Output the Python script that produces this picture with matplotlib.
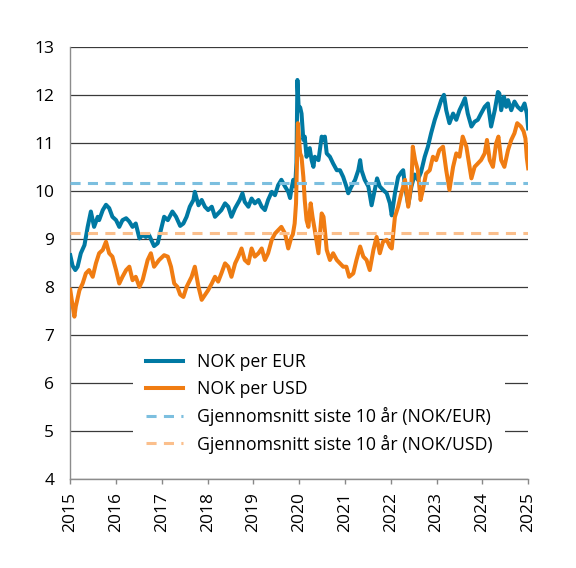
import matplotlib
matplotlib.use('Agg')
from matplotlib import pyplot as plt

plt.rcParams['font.family'] = ['Open Sans', 'DejaVu Sans']

# NOK per EUR, position on the year axis and value
eur_x = [
    2015.00, 2015.05, 2015.11, 2015.16, 2015.23, 2015.31, 2015.38, 2015.45,
    2015.52, 2015.60, 2015.63, 2015.71, 2015.78, 2015.85, 2015.92, 2016.00,
    2016.07, 2016.14, 2016.22, 2016.29, 2016.36, 2016.43, 2016.51, 2016.58,
    2016.65, 2016.72, 2016.83, 2016.91, 2016.98, 2017.05, 2017.13, 2017.23,
    2017.31, 2017.40, 2017.47, 2017.54, 2017.61, 2017.69, 2017.72, 2017.80,
    2017.87, 2017.94, 2018.01, 2018.09, 2018.16, 2018.23, 2018.30, 2018.38,
    2018.45, 2018.52, 2018.60, 2018.70, 2018.76, 2018.81, 2018.89, 2018.96,
    2019.03, 2019.11, 2019.18, 2019.25, 2019.32, 2019.40, 2019.47, 2019.54,
    2019.61, 2019.69, 2019.76, 2019.80, 2019.83, 2019.87, 2019.91, 2019.94,
    2019.96, 2019.99, 2020.02, 2020.05, 2020.09, 2020.12, 2020.16, 2020.20,
    2020.23, 2020.27, 2020.31, 2020.34, 2020.42, 2020.49, 2020.53, 2020.56,
    2020.60, 2020.67, 2020.74, 2020.82, 2020.89, 2020.96, 2021.03, 2021.07,
    2021.14, 2021.22, 2021.29, 2021.33, 2021.36, 2021.43, 2021.51, 2021.58,
    2021.65, 2021.70, 2021.76, 2021.83, 2021.91, 2021.98, 2022.02, 2022.09,
    2022.16, 2022.23, 2022.27, 2022.31, 2022.38, 2022.45, 2022.52, 2022.59,
    2022.66, 2022.74, 2022.81, 2022.88, 2022.96, 2023.03, 2023.10, 2023.16,
    2023.21, 2023.28, 2023.36, 2023.43, 2023.50, 2023.57, 2023.62, 2023.68,
    2023.76, 2023.83, 2023.90, 2023.97, 2024.05, 2024.12, 2024.19, 2024.27,
    2024.34, 2024.37, 2024.41, 2024.47, 2024.52, 2024.56, 2024.63, 2024.70,
    2024.77, 2024.85, 2024.92, 2024.97, 2025.00,
]
eur_y = [
    8.67, 8.45, 8.36, 8.43, 8.71, 8.88, 9.26, 9.58,
    9.26, 9.47, 9.40, 9.61, 9.72, 9.65, 9.47, 9.40,
    9.26, 9.40, 9.44, 9.37, 9.26, 9.33, 9.02, 9.09,
    9.05, 9.09, 8.86, 8.92, 9.20, 9.47, 9.40, 9.58,
    9.47, 9.28, 9.33, 9.47, 9.68, 9.82, 9.99, 9.71,
    9.82, 9.68, 9.61, 9.68, 9.47, 9.54, 9.61, 9.75,
    9.68, 9.47, 9.65, 9.82, 9.96, 9.78, 9.68, 9.85,
    9.75, 9.82, 9.68, 9.61, 9.82, 9.99, 9.92, 10.13,
    10.24, 10.10, 9.99, 9.86, 10.05, 10.24, 10.10, 10.60,
    12.32, 11.69, 11.75, 11.62, 11.07, 11.14, 10.72, 10.86,
    10.90, 10.65, 10.51, 10.72, 10.65, 11.14, 11.07, 11.14,
    10.79, 10.72, 10.58, 10.44, 10.44, 10.30, 10.10, 9.96,
    10.10, 10.24, 10.44, 10.65, 10.44, 10.24, 10.10, 9.71,
    10.03, 10.27, 10.10, 10.03, 9.96, 9.75, 9.50, 9.96,
    10.30, 10.40, 10.44, 10.10, 9.72, 10.10, 10.35, 10.24,
    10.40, 10.72, 10.93, 11.21, 11.49, 11.69, 11.90, 12.01,
    11.69, 11.42, 11.62, 11.49, 11.69, 11.83, 11.94, 11.62,
    11.35, 11.45, 11.49, 11.62, 11.76, 11.83, 11.35, 11.69,
    12.07, 12.04, 11.69, 11.97, 11.76, 11.90, 11.69, 11.87,
    11.76, 11.69, 11.83, 11.62, 11.31,
]

# NOK per USD
usd_x = [
    2015.00, 2015.03, 2015.09, 2015.12, 2015.20, 2015.27, 2015.34, 2015.41,
    2015.49, 2015.56, 2015.63, 2015.71, 2015.78, 2015.85, 2015.92, 2016.00,
    2016.07, 2016.14, 2016.22, 2016.29, 2016.36, 2016.43, 2016.51, 2016.58,
    2016.69, 2016.76, 2016.83, 2016.94, 2017.05, 2017.13, 2017.20, 2017.27,
    2017.34, 2017.40, 2017.47, 2017.54, 2017.65, 2017.72, 2017.80, 2017.87,
    2017.94, 2018.01, 2018.09, 2018.16, 2018.23, 2018.30, 2018.38, 2018.45,
    2018.52, 2018.60, 2018.67, 2018.74, 2018.81, 2018.89, 2018.96, 2019.03,
    2019.11, 2019.18, 2019.25, 2019.32, 2019.40, 2019.47, 2019.54, 2019.61,
    2019.69, 2019.76, 2019.83, 2019.86, 2019.90, 2019.93, 2019.97, 2020.02,
    2020.05, 2020.09, 2020.12, 2020.16, 2020.20, 2020.25, 2020.29, 2020.34,
    2020.42, 2020.49, 2020.53, 2020.56, 2020.60, 2020.67, 2020.74, 2020.82,
    2020.89, 2020.96, 2021.03, 2021.09, 2021.18, 2021.25, 2021.33, 2021.40,
    2021.47, 2021.54, 2021.62, 2021.69, 2021.76, 2021.83, 2021.91, 2021.98,
    2022.02, 2022.09, 2022.16, 2022.23, 2022.31, 2022.38, 2022.45, 2022.48,
    2022.53, 2022.59, 2022.65, 2022.70, 2022.77, 2022.85, 2022.92, 2022.99,
    2023.06, 2023.14, 2023.21, 2023.28, 2023.36, 2023.43, 2023.50, 2023.57,
    2023.65, 2023.72, 2023.76, 2023.83, 2023.90, 2023.97, 2024.05, 2024.10,
    2024.16, 2024.23, 2024.30, 2024.35, 2024.41, 2024.48, 2024.56, 2024.63,
    2024.70, 2024.76, 2024.84, 2024.90, 2024.94, 2024.97, 2025.00,
]
usd_y = [
    7.95, 7.75, 7.39, 7.60, 7.94, 8.08, 8.29, 8.36,
    8.22, 8.50, 8.71, 8.78, 8.95, 8.71, 8.64, 8.36,
    8.08, 8.22, 8.36, 8.43, 8.15, 8.22, 8.01, 8.15,
    8.57, 8.71, 8.43, 8.57, 8.67, 8.64, 8.43, 8.08,
    8.01, 7.85, 7.80, 8.01, 8.22, 8.43, 8.01, 7.74,
    7.84, 7.94, 8.08, 8.22, 8.12, 8.29, 8.50, 8.43,
    8.22, 8.50, 8.64, 8.81, 8.57, 8.50, 8.81, 8.64,
    8.71, 8.81, 8.57, 8.71, 8.99, 9.12, 9.19, 9.26,
    9.12, 8.81, 9.05, 9.10, 9.33, 9.75, 11.42, 10.79,
    10.72, 10.30, 9.82, 9.40, 9.26, 9.75, 9.47, 9.19,
    8.71, 9.54, 9.47, 9.19, 8.78, 8.57, 8.71, 8.57,
    8.50, 8.43, 8.43, 8.22, 8.29, 8.57, 8.85, 8.64,
    8.57, 8.36, 8.78, 9.05, 8.71, 8.95, 8.99, 8.85,
    8.81, 9.47, 9.68, 9.96, 10.24, 9.68, 10.17, 10.93,
    10.65, 10.44, 9.82, 10.03, 10.37, 10.44, 10.72, 10.65,
    10.86, 10.93, 10.44, 10.03, 10.51, 10.79, 10.72, 11.14,
    10.93, 10.51, 10.27, 10.51, 10.58, 10.65, 10.79, 11.07,
    10.65, 10.51, 11.00, 11.14, 10.65, 10.51, 10.86, 11.07,
    11.21, 11.42, 11.35, 11.25, 11.10, 10.70, 10.48,
]

# averages over the last ten years
eur_avg = 10.17
usd_avg = 9.13

years = list(range(2015, 2026))
y_ticks = list(range(4, 14))
labels = [
    'NOK per EUR',
    'NOK per USD',
    'Gjennomsnitt siste 10 år (NOK/EUR)',
    'Gjennomsnitt siste 10 år (NOK/USD)',
]

EUR_COLOR = '#0079a3'
USD_COLOR = '#f07c12'
EUR_AVG_COLOR = '#7cbfdf'
USD_AVG_COLOR = '#fbbf8c'

fig = plt.figure(figsize=(5.76, 5.68), dpi=100)
ax = fig.add_axes([0.122, 0.156, 0.795, 0.7607])

ax.plot(eur_x, eur_y, color=EUR_COLOR, lw=2.9, solid_joinstyle='round',
        label=labels[0], zorder=3)
ax.plot(usd_x, usd_y, color=USD_COLOR, lw=2.9, solid_joinstyle='round',
        label=labels[1], zorder=3)
ax.axhline(eur_avg, color=EUR_AVG_COLOR, lw=2.2, dashes=(3.3, 2.4),
           label=labels[2], zorder=4)
ax.axhline(usd_avg, color=USD_AVG_COLOR, lw=2.2, dashes=(3.3, 2.4),
           label=labels[3], zorder=4)

ax.set_xlim(years[0], years[-1])
ax.set_ylim(y_ticks[0], y_ticks[-1])
ax.set_xticks(years)
ax.set_xticklabels([str(y) for y in years], rotation=90, fontsize=12.5)
ax.set_yticks(y_ticks)
ax.set_yticklabels([str(v) for v in y_ticks], fontsize=12.5)
ax.tick_params(axis='x', length=3.6, width=1, color='#888888', pad=5.5)
ax.tick_params(axis='y', length=0, pad=11.5)

ax.grid(axis='y', color='#3a3a3a', lw=0.9, zorder=1)
ax.grid(axis='x', visible=False)
for side in ['top', 'right']:
    ax.spines[side].set_visible(False)
for side in ['left', 'bottom']:
    ax.spines[side].set_color('#8c8c8c')
    ax.spines[side].set_linewidth(1.0)

leg = ax.legend(loc='upper left', bbox_to_anchor=(0.137, 0.323),
                fontsize=12.7, frameon=True, fancybox=False,
                handlelength=2.1, handletextpad=0.75, labelspacing=0.5,
                borderpad=0.75, borderaxespad=0)
leg.get_frame().set_facecolor('white')
leg.get_frame().set_edgecolor('none')
leg.get_frame().set_alpha(1)
leg.set_zorder(5)

fig.savefig('out.png', dpi=100)
